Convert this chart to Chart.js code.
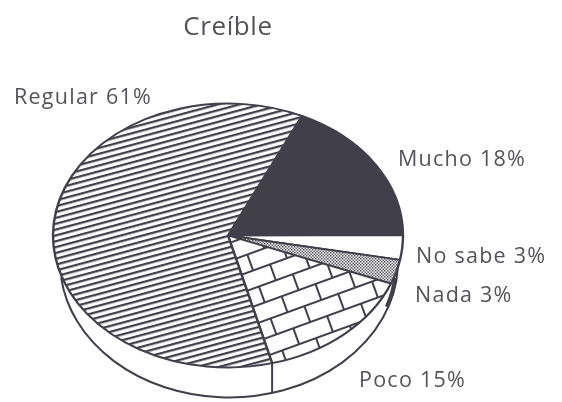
<!DOCTYPE html>
<html>
<head>
<meta charset="utf-8">
<script src="https://cdn.jsdelivr.net/npm/chart.js@4"></script>
<style>
  html, body { margin: 0; padding: 0; background: #fff; }
  canvas { display: block; }
</style>
</head>
<body>
<canvas id="pie" width="562" height="402"></canvas>
<script>
const chartTitle = 'Creíble';
const categories = ['Mucho', 'No sabe', 'Nada', 'Poco', 'Regular'];
const percents = [18, 3, 3, 15, 61];

const ink = '#413f49';
const textInk = '#55535a';
const labelFont = '21.5px "Open Sans"';
// left edge and baseline of each label, same order as categories
const labelSpots = [[398, 166], [416, 263], [415, 302], [359, 387], [14, 104]];

const squash = 132 / 175;   // flattening of the pie top
const faceY = 235.5;        // where the pie centre lands after flattening

function makeTile(w, h, paint) {
    const c = document.createElement('canvas');
    c.width = w;
    c.height = h;
    const g = c.getContext('2d');
    g.fillStyle = '#fff';
    g.fillRect(0, 0, w, h);
    g.fillStyle = ink;
    g.strokeStyle = ink;
    paint(g);
    return c;
}

function makePattern(tile, deg, size = 1) {
    const g = document.createElement('canvas').getContext('2d');
    const p = g.createPattern(tile, 'repeat');
    // undo the flattening so the hatching keeps its shape
    p.setTransform(new DOMMatrix().scale(1, 1 / squash).rotate(deg).scale(size));
    return p;
}

const stripes = makePattern(makeTile(8, 6, g => g.fillRect(0, 2, 8, 2.4)), -15, 0.94);

const bricks = makePattern(makeTile(36, 34, g => {
    g.lineWidth = 2;
    g.beginPath();
    g.moveTo(0, 1); g.lineTo(36, 1);
    g.moveTo(0, 18); g.lineTo(36, 18);
    g.moveTo(8, 1); g.lineTo(8, 18);
    g.moveTo(26, 18); g.lineTo(26, 34);
    g.stroke();
}), -20);

const dots = makePattern(makeTile(3, 3, g => {
    g.fillRect(0, 0, 1.4, 1.4);
    g.fillRect(1.5, 1.5, 1.4, 1.4);
}), 0);

const flatPie = {
    id: 'flatPie',
    beforeDraw(chart) {
        // Chart.js has no letter spacing option, the title picks this up from the context
        chart.ctx.letterSpacing = '0.6px';
    },
    beforeDatasetsDraw(chart) {
        const { ctx } = chart;
        const meta = chart.getDatasetMeta(0);
        const { x, y, outerRadius: r } = meta.data[0];

        // side wall of the disc
        const wallX = x + 1;
        const wallY = faceY + 26;
        const wallRx = r * 0.966;
        const wallRy = r * 0.777;
        ctx.save();
        ctx.strokeStyle = ink;
        ctx.lineWidth = 2;
        ctx.beginPath();
        ctx.ellipse(wallX, wallY, wallRx, wallRy, 0, 0.05, Math.PI - 0.118);
        ctx.stroke();
        // the wall and the face run together on the right
        ctx.lineWidth = 4;
        ctx.beginPath();
        ctx.ellipse(wallX - 1.5, wallY, wallRx, wallRy, 0, 0.12, 0.34);
        ctx.stroke();
        ctx.lineWidth = 2;

        // seam under the Poco / Regular boundary
        const a = meta.data[3].endAngle;
        const seamX = x + r * Math.cos(a);
        const seamTop = faceY + r * squash * Math.sin(a);
        const t = Math.acos((seamX - wallX) / wallRx);
        ctx.beginPath();
        ctx.moveTo(seamX, seamTop);
        ctx.lineTo(seamX, wallY + wallRy * Math.sin(t));
        ctx.stroke();
        ctx.restore();

        ctx.save();
        ctx.translate(x, faceY);
        ctx.scale(1, squash);
        ctx.translate(-x, -y);
    },
    afterDatasetsDraw(chart) {
        chart.ctx.restore();
    },
    afterDraw(chart) {
        const { ctx } = chart;
        ctx.save();
        ctx.font = labelFont;
        ctx.letterSpacing = '1.25px';
        ctx.fillStyle = textInk;
        ctx.textBaseline = 'alphabetic';
        categories.forEach((name, i) => {
            ctx.fillText(`${name} ${percents[i]}%`, labelSpots[i][0], labelSpots[i][1]);
        });
        ctx.restore();
        ctx.letterSpacing = '0px';
    }
};

new Chart(document.getElementById('pie'), {
    type: 'pie',
    data: {
        labels: categories,
        datasets: [{
            data: percents,
            backgroundColor: [ink, '#fff', dots, bricks, stripes],
            borderColor: ink,
            borderWidth: 2.4,
            borderJoinStyle: 'round',
            clip: false
        }]
    },
    options: {
        responsive: false,
        animation: false,
        rotation: 25,
        radius: 175,
        layout: { padding: { left: 53, right: 159, top: 0, bottom: 12 } },
        plugins: {
            legend: { display: false },
            tooltip: { enabled: false },
            title: {
                display: true,
                text: chartTitle,
                fullSize: false,
                color: textInk,
                font: { family: 'Open Sans', size: 26, weight: 'normal' },
                padding: { top: 12, bottom: 0 }
            }
        }
    },
    plugins: [flatPie]
});
</script>
</body>
</html>
